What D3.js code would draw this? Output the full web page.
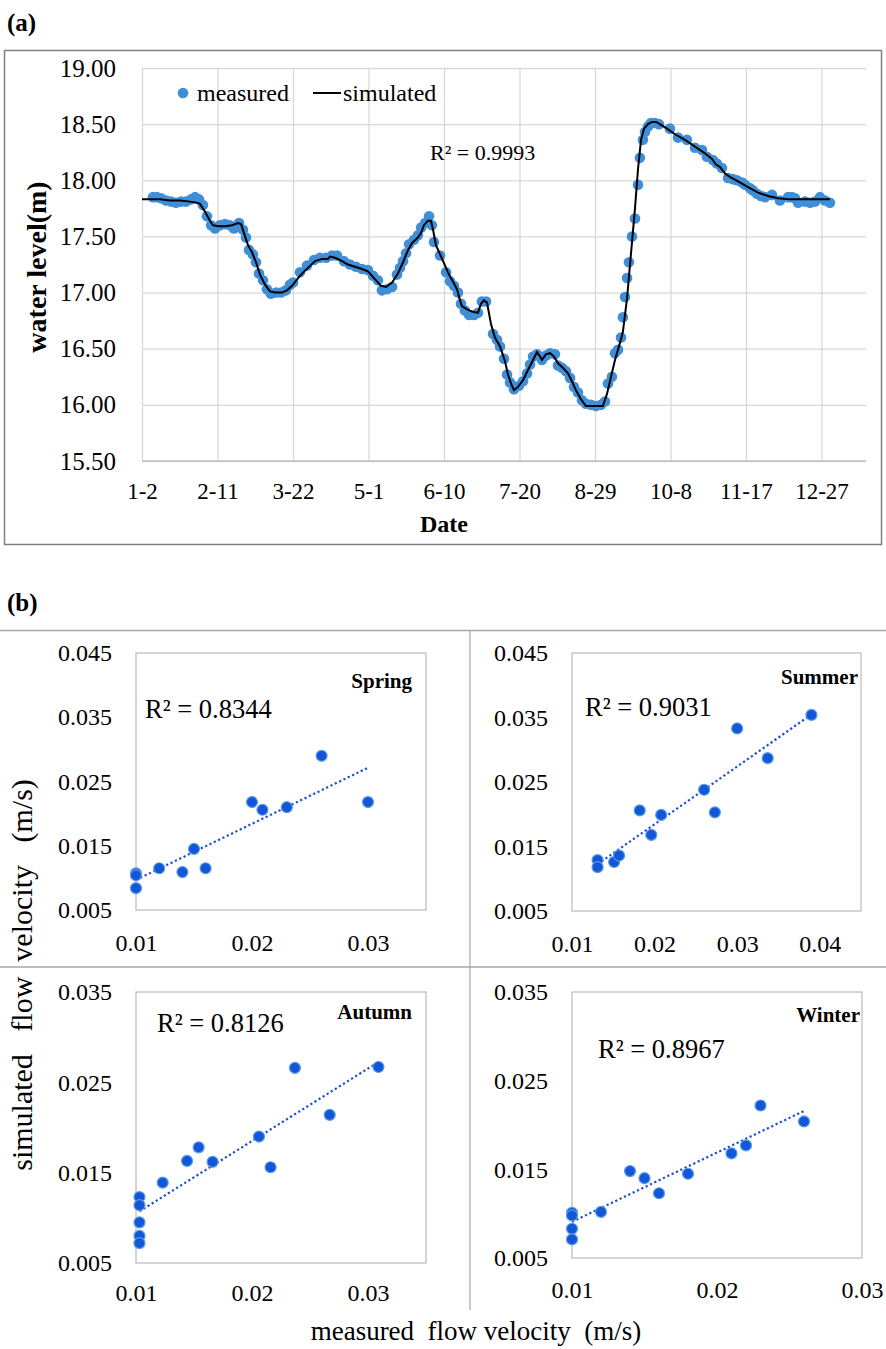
<!DOCTYPE html>
<html><head><meta charset="utf-8">
<script src="https://cdn.jsdelivr.net/npm/d3@7"></script>
<style>
body{margin:0;background:#fff;}
svg{display:block;}
</style></head><body>
<svg id="c" width="886" height="1349"></svg>
<script>
// ---------- (a) water level ----------
const dateTickDays = [0,40,80,120,160,200,240,280,320,360];
const dateLabels = ["1-2","2-11","3-22","5-1","6-10","7-20","8-29","10-8","11-17","12-27"];
const levelTicks = [15.5,16,16.5,17,17.5,18,18.5,19];
const measuredDays = [5.8,7.9,10.1,12.7,15.4,18.0,20.7,23.3,26.0,28.1,
30.2,32.3,34.4,36.6,38.7,41.3,44.0,46.6,48.7,51.4,
53.5,55.1,56.7,58.8,60.4,62.0,64.1,66.2,68.3,71.0,
73.6,76.3,78.4,80.0,83.7,87.4,91.1,94.3,97.5,100.7,
103.3,107.0,110.2,113.4,116.6,119.7,122.4,125.0,127.1,129.8,
132.5,135.1,136.7,138.3,139.9,141.5,144.1,146.2,147.9,150.0,
152.1,153.6,154.7,157.9,161.1,163.2,165.3,167.4,169.0,171.1,
173.3,175.9,178.0,180.1,182.3,186.0,188.1,189.7,191.8,193.4,
195.0,197.1,199.7,201.9,204.0,205.6,207.2,209.3,211.9,214.1,
216.2,218.8,220.4,222.5,224.6,226.8,228.9,231.0,233.1,235.2,
237.9,240.5,243.2,245.3,246.9,249.0,250.6,252.2,253.8,254.8,
255.9,257.0,258.0,259.6,261.2,262.8,263.8,265.4,266.5,268.1,
269.7,271.8,273.9,279.7,284.0,288.7,293.0,296.7,299.3,302.5,
304.6,307.3,310.5,313.1,315.2,317.9,319.5,322.1,323.7,325.8,
327.9,330.1,333.8,338.0,342.3,344.4,346.0,347.6,351.3,354.0,
356.6,359.2,361.9,364.5];
const measuredLevel = [17.85,17.85,17.84,17.82,17.81,17.80,17.81,17.81,17.83,17.85,
17.83,17.78,17.68,17.60,17.57,17.60,17.61,17.60,17.57,17.62,
17.56,17.49,17.38,17.34,17.27,17.17,17.11,17.03,16.99,17.00,
17.00,17.02,17.07,17.09,17.18,17.24,17.29,17.31,17.31,17.33,
17.33,17.28,17.25,17.23,17.21,17.20,17.15,17.11,17.02,17.03,
17.05,17.16,17.22,17.28,17.35,17.43,17.47,17.51,17.58,17.62,
17.68,17.60,17.45,17.33,17.18,17.10,17.06,17.00,16.90,16.84,
16.80,16.80,16.82,16.92,16.92,16.63,16.58,16.52,16.41,16.27,
16.20,16.14,16.17,16.21,16.28,16.36,16.43,16.45,16.40,16.44,
16.46,16.45,16.35,16.33,16.30,16.24,16.16,16.11,16.04,16.01,
16.00,15.99,16.00,16.03,16.19,16.25,16.46,16.49,16.60,16.78,
16.96,17.13,17.27,17.50,17.66,17.96,18.20,18.36,18.43,18.48,
18.51,18.51,18.50,18.46,18.38,18.36,18.29,18.27,18.21,18.18,
18.15,18.11,18.02,18.01,18.00,17.98,17.96,17.93,17.91,17.88,
17.86,17.85,17.87,17.82,17.85,17.85,17.84,17.80,17.81,17.80,
17.81,17.85,17.82,17.80];
const simDays = [0,4.2,9.5,14.8,20.1,25.4,29.1,30.7,33.4,36.0,
37.6,40.3,44.0,47.7,50.9,52.5,54.6,56.2,58.3,60.4,
62.5,65.2,67.8,70.5,74.2,76.8,79.5,83.7,87.9,91.7,
95.4,98.5,99.6,102.3,106.0,109.1,112.8,116.6,119.7,123.4,
126.6,129.3,132.5,135.6,138.3,141.0,143.0,146.2,147.8,149.4,
151.5,153.1,154.2,155.8,159.0,162.1,165.3,166.9,168.5,169.5,
172.2,174.8,178.0,179.6,181.2,182.8,184.9,187.0,189.7,192.3,
193.9,196.0,197.1,199.2,201.9,204.5,207.2,209.3,210.9,211.9,
214.0,216.2,218.3,220.4,223.0,225.7,227.8,229.9,232.6,235.2,
241.1,244.2,246.4,248.5,250.6,253.2,254.8,257.0,259.1,261.2,
262.8,264.4,266.0,268.1,270.2,272.3,274.4,278.2,282.4,287.7,
293.0,298.3,302.0,304.1,306.2,308.9,311.5,315.8,321.1,326.4,
331.7,337.0,343.3,348.6,356.6,364.5];
const simLevel = [17.83,17.83,17.83,17.82,17.82,17.81,17.80,17.79,17.72,17.64,
17.60,17.59,17.59,17.60,17.62,17.61,17.50,17.42,17.36,17.27,
17.16,17.07,17.01,17.00,17.00,17.02,17.06,17.15,17.22,17.28,
17.30,17.30,17.32,17.31,17.28,17.25,17.23,17.21,17.19,17.12,
17.06,17.05,17.09,17.17,17.27,17.38,17.44,17.49,17.53,17.60,
17.64,17.64,17.56,17.42,17.30,17.18,17.08,17.03,16.93,16.88,
16.85,16.83,16.82,16.90,16.93,16.91,16.72,16.60,16.52,16.39,
16.27,16.17,16.13,16.16,16.22,16.31,16.40,16.47,16.43,16.40,
16.45,16.46,16.43,16.37,16.33,16.28,16.21,16.13,16.05,15.99,
15.99,15.99,16.10,16.25,16.40,16.55,16.65,16.95,17.35,17.75,
18.10,18.36,18.46,18.50,18.52,18.52,18.50,18.46,18.41,18.36,
18.30,18.24,18.19,18.14,18.12,18.06,18.03,17.99,17.94,17.89,
17.86,17.84,17.83,17.83,17.83,17.83];
const levelR2 = "R² = 0.9993";

// ---------- (b) flow velocity ----------
const springMeasured  = [0.0100,0.0100,0.0100,0.0120,0.0140,0.0150,0.0160,0.0200,0.0209,0.0230,0.0260,0.0300];
const springSimulated = [0.0107,0.0104,0.0084,0.0115,0.0109,0.0145,0.0115,0.0218,0.0206,0.0210,0.0290,0.0218];
const summerMeasured  = [0.0131,0.0131,0.0151,0.0157,0.0182,0.0196,0.0208,0.0260,0.0273,0.0300,0.0337,0.0390];
const summerSimulated = [0.0129,0.0118,0.0126,0.0136,0.0206,0.0168,0.0199,0.0238,0.0203,0.0333,0.0287,0.0354];
const autumnMeasured  = [0.0103,0.0103,0.0103,0.0103,0.0103,0.0123,0.0144,0.0154,0.0166,0.0206,0.0216,0.0237,0.0267,0.0309];
const autumnSimulated = [0.0123,0.0114,0.0095,0.0080,0.0072,0.0139,0.0163,0.0178,0.0162,0.0190,0.0156,0.0266,0.0214,0.0267];
const winterMeasured  = [0.0100,0.0100,0.0100,0.0100,0.0120,0.0140,0.0150,0.0160,0.0180,0.0210,0.0220,0.0230,0.0260];
const winterSimulated = [0.0101,0.0098,0.0083,0.0071,0.0102,0.0148,0.0140,0.0123,0.0145,0.0168,0.0177,0.0222,0.0204];
const seasonNames = ["Spring","Summer","Autumn","Winter"];
const seasonR2 = ["R² = 0.8344","R² = 0.9031","R² = 0.8126","R² = 0.8967"];
const ticksY1 = [0.005,0.015,0.025,0.035,0.045];
const ticksY2 = [0.005,0.015,0.025,0.035];
const ticksX3 = [0.01,0.02,0.03];
const ticksX4 = [0.01,0.02,0.03,0.04];

const FONT = "'Liberation Serif','Times New Roman',serif";
const svg = d3.select("#c").attr("font-family", FONT);

// ===== panel (a) =====
svg.append("text").attr("x",7).attr("y",31).attr("font-size",25).attr("font-weight","bold").text("(a)");
svg.append("rect").attr("x",4.5).attr("y",50.5).attr("width",877).attr("height",494)
  .attr("fill","none").attr("stroke","#7f7f7f").attr("stroke-width",1.5);

const xA = d3.scaleLinear().domain([0,383.6]).range([142,866]);
const yA = d3.scaleLinear().domain([15.5,19]).range([461,68]);

const gridY = svg.append("g").attr("transform","translate(142,0)")
  .call(d3.axisLeft(yA).tickValues(levelTicks).tickSize(-(866-142)).tickFormat(""));
gridY.select(".domain").remove();
gridY.selectAll("line").attr("stroke","#d9d9d9").attr("stroke-width",1.3);
const gridX = svg.append("g").attr("transform","translate(0,461)")
  .call(d3.axisBottom(xA).tickValues(dateTickDays).tickSize(-(461-68)).tickFormat(""));
gridX.select(".domain").remove();
gridX.selectAll("line").attr("stroke","#d9d9d9").attr("stroke-width",1.3);
svg.append("line").attr("x1",142).attr("x2",866).attr("y1",yA(15.5)).attr("y2",yA(15.5))
  .attr("stroke","#bfbfbf").attr("stroke-width",1.5);

const labY = svg.append("g").attr("transform","translate(142,0)")
  .call(d3.axisLeft(yA).tickValues(levelTicks).tickSize(0).tickPadding(26).tickFormat(d3.format(".2f")));
labY.select(".domain").remove();
labY.attr("font-family",FONT).attr("font-size",25);
const labX = svg.append("g").attr("transform","translate(0,461)")
  .call(d3.axisBottom(xA).tickValues(dateTickDays).tickSize(0).tickPadding(22).tickFormat((d,i)=>dateLabels[i]));
labX.select(".domain").remove();
labX.attr("font-family",FONT).attr("font-size",23);

svg.append("text").attr("x",444).attr("y",532).attr("text-anchor","middle")
  .attr("font-size",24).attr("font-weight","bold").text("Date");
svg.append("text").attr("transform","translate(46,267) rotate(-90)").attr("text-anchor","middle")
  .attr("font-size",28).attr("font-weight","bold").text("water level(m)");

svg.append("g").selectAll("circle").data(measuredDays).join("circle")
  .attr("cx",d=>xA(d)).attr("cy",(d,i)=>yA(measuredLevel[i])).attr("r",5.3)
  .attr("fill","#3f8fd8");
svg.append("path").datum(simDays)
  .attr("d", d3.line().x(d=>xA(d)).y((d,i)=>yA(simLevel[i])))
  .attr("fill","none").attr("stroke","#000").attr("stroke-width",2);

// legend
svg.append("circle").attr("cx",183).attr("cy",93).attr("r",5.3).attr("fill","#3f8fd8");
svg.append("text").attr("x",197).attr("y",101).attr("font-size",24).text("measured");
svg.append("line").attr("x1",313).attr("x2",341).attr("y1",93).attr("y2",93).attr("stroke","#000").attr("stroke-width",2);
svg.append("text").attr("x",343).attr("y",101).attr("font-size",24).text("simulated");
svg.append("text").attr("x",430).attr("y",160).attr("font-size",22).text(levelR2);

// ===== panel (b) =====
svg.append("text").attr("x",7).attr("y",611).attr("font-size",25).attr("font-weight","bold").text("(b)");
const divStroke = "#a6a6a6";
svg.append("line").attr("x1",0).attr("x2",886).attr("y1",630.5).attr("y2",630.5).attr("stroke",divStroke).attr("stroke-width",1.5);
svg.append("line").attr("x1",0).attr("x2",886).attr("y1",967).attr("y2",967).attr("stroke",divStroke).attr("stroke-width",1.5);
svg.append("line").attr("x1",470).attr("x2",470).attr("y1",630).attr("y2",1310).attr("stroke",divStroke).attr("stroke-width",1.2);

function panel(o){
  const xs = d3.scaleLinear().domain(o.xDomain).range([o.left,o.right]);
  const ys = d3.scaleLinear().domain(o.yDomain).range([o.bottom,o.top]);
  const g = svg.append("g");
  g.append("rect").attr("x",o.left).attr("y",o.top).attr("width",o.right-o.left).attr("height",o.bottom-o.top)
    .attr("fill","none").attr("stroke","#bfbfbf").attr("stroke-width",1.3);
  const ax = g.append("g").attr("transform",`translate(0,${o.bottom})`)
    .call(d3.axisBottom(xs).tickValues(o.xTicks).tickSize(0).tickPadding(o.xPad).tickFormat(d3.format(".2f")));
  ax.select(".domain").remove();
  ax.attr("font-family",FONT).attr("font-size",24);
  const ay = g.append("g").attr("transform",`translate(${o.left},0)`)
    .call(d3.axisLeft(ys).tickValues(o.yTicks).tickSize(0).tickPadding(24).tickFormat(d3.format(".3f")));
  ay.select(".domain").remove();
  ay.attr("font-family",FONT).attr("font-size",24);
  // least squares trend line
  const mx = d3.mean(o.mx), my = d3.mean(o.sy);
  let sxy=0,sxx=0;
  o.mx.forEach((v,i)=>{sxy+=(v-mx)*(o.sy[i]-my);sxx+=(v-mx)*(v-mx);});
  const b = sxy/sxx, a = my-b*mx;
  const x0 = d3.min(o.mx), x1 = d3.max(o.mx);
  g.append("line").attr("x1",xs(x0)).attr("y1",ys(a+b*x0)).attr("x2",xs(x1)).attr("y2",ys(a+b*x1))
    .attr("stroke","#1a4fd8").attr("stroke-width",2.2).attr("stroke-dasharray","2.2,2.6");
  g.append("g").selectAll("circle").data(o.mx).join("circle")
    .attr("cx",d=>xs(d)).attr("cy",(d,i)=>ys(o.sy[i])).attr("r",5.5)
    .attr("fill","#1257d8").attr("stroke","#5c9ce6").attr("stroke-width",1.2);
  g.append("text").attr("x",o.r2x).attr("y",o.r2y).attr("font-size",26.5).text(o.r2);
  g.append("text").attr("x",o.nx).attr("y",o.ny).attr("font-size",21).attr("font-weight","bold")
    .attr("text-anchor","end").text(o.name);
}
panel({left:136,right:426,top:653,bottom:910,xDomain:[0.01,0.035],yDomain:[0.005,0.045],
  xTicks:ticksX3,yTicks:ticksY1,xPad:24,mx:springMeasured,sy:springSimulated,
  r2:seasonR2[0],r2x:145,r2y:718,name:seasonNames[0],nx:412,ny:688});
panel({left:572,right:861,top:653,bottom:911,xDomain:[0.01,0.045],yDomain:[0.005,0.045],
  xTicks:ticksX4,yTicks:ticksY1,xPad:24,mx:summerMeasured,sy:summerSimulated,
  r2:seasonR2[1],r2x:585,r2y:716,name:seasonNames[1],nx:858,ny:684});
panel({left:136,right:426,top:992,bottom:1263,xDomain:[0.01,0.035],yDomain:[0.005,0.035],
  xTicks:ticksX3,yTicks:ticksY2,xPad:21,mx:autumnMeasured,sy:autumnSimulated,
  r2:seasonR2[2],r2x:157,r2y:1032,name:seasonNames[2],nx:412,ny:1019});
panel({left:572,right:862,top:992,bottom:1258,xDomain:[0.01,0.03],yDomain:[0.005,0.035],
  xTicks:ticksX3,yTicks:ticksY2,xPad:23,mx:winterMeasured,sy:winterSimulated,
  r2:seasonR2[3],r2x:598,r2y:1058,name:seasonNames[3],nx:860,ny:1022});

svg.append("text").attr("x",476).attr("y",1340).attr("text-anchor","middle").attr("font-size",27)
  .style("white-space","pre").text("measured  flow velocity  (m/s)");
svg.append("text").attr("transform","translate(32,975) rotate(-90)").attr("text-anchor","middle").attr("font-size",30)
  .style("white-space","pre").text("simulated   flow  velocity   (m/s)");
</script>
</body></html>
